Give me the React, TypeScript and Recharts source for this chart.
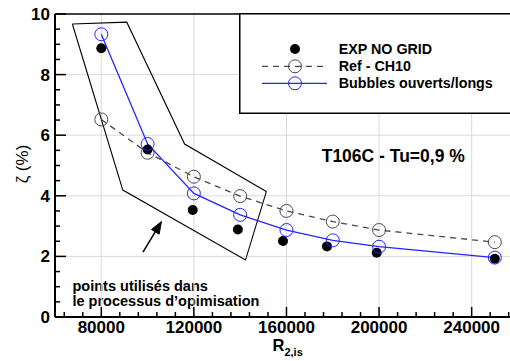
import React from 'react';
import { ComposedChart, Line, XAxis, YAxis, ReferenceLine, Legend } from 'recharts';

// ---- data ----
const expX = [80000, 100000, 119500, 139000, 158500, 177500, 199000, 250000];
const expY = [8.87, 5.53, 3.53, 2.89, 2.51, 2.33, 2.12, 1.92];

const refX = [80000, 100000, 120000, 140000, 160000, 180000, 200000, 250000];
const refY = [6.52, 5.42, 4.63, 3.99, 3.5, 3.15, 2.87, 2.47];

const bubX = [80000, 100000, 120000, 140000, 160000, 180000, 200000, 250000];
const bubY = [9.33, 5.71, 4.08, 3.37, 2.87, 2.53, 2.32, 1.96];

const polyX = [67500, 91000, 116000, 151300, 142300, 89300, 67500];
const polyY = [9.67, 9.73, 5.71, 4.14, 1.88, 4.19, 9.67];

const arrowX = [98000, 106000];
const arrowY = [2.14, 3.15];

const xTicks = [64000, 72000, 80000, 88000, 96000, 104000, 112000, 120000, 128000, 136000, 144000, 152000, 160000, 168000, 176000, 184000, 192000, 200000, 208000, 216000, 224000, 232000, 240000, 248000, 256000];
const xMajor = [80000, 120000, 160000, 200000, 240000];
const yTicks = [0, 0.5, 1, 1.5, 2, 2.5, 3, 3.5, 4, 4.5, 5, 5.5, 6, 6.5, 7, 7.5, 8, 8.5, 9, 9.5, 10];
const yMajor = [0, 2, 4, 6, 8, 10];
const yGrid = [2, 4, 6, 8];

const legendLabels = ['EXP NO GRID', 'Ref - CH10', 'Bubbles ouverts/longs'];
const noteLines = ['points utilisés dans', 'le processus d’opimisation'];
const caseLabel = 'T106C - Tu=0,9 %';

const zip = (xs: number[], ys: number[]) => xs.map((x, i) => ({ x, y: ys[i] }));
const expData = zip(expX, expY);
const refData = zip(refX, refY);
const bubData = zip(bubX, bubY);
const polyData = zip(polyX, polyY);

const FONT = '"Liberation Sans", Arial, Helvetica, sans-serif';
const BLUE = '#2424ff';
const GREY = '#4a4a4a';

const XTick = (props: any) => {
  const { x, y, payload } = props;
  const major = xMajor.includes(payload.value);
  return (
    <g>
      <line x1={x} x2={x} y1={y} y2={y - (major ? 10 : 5)} stroke="#000" strokeWidth={1.5} />
      {major && (
        <text x={x} y={y + 15.5} textAnchor="middle" fontFamily={FONT} fontWeight="bold" fontSize={17} fill="#000">
          {payload.value}
        </text>
      )}
    </g>
  );
};

const YTick = (props: any) => {
  const { x, y, payload } = props;
  const major = yMajor.includes(payload.value);
  return (
    <g>
      <line x1={x} x2={x + (major ? 11 : 5)} y1={y} y2={y} stroke="#000" strokeWidth={1.5} />
      {major && (
        <text x={x - 5} y={y + 6} textAnchor="end" fontFamily={FONT} fontWeight="bold" fontSize={17} fill="#000">
          {payload.value}
        </text>
      )}
    </g>
  );
};

const ArrowShape = (p: any) => {
  const { x1, y1, x2, y2 } = p;
  const dx = x2 - x1;
  const dy = y2 - y1;
  const len = Math.sqrt(dx * dx + dy * dy) || 1;
  const ux = dx / len;
  const uy = dy / len;
  const hl = 12;
  const hw = 4.5;
  const bx = x2 - ux * hl;
  const by = y2 - uy * hl;
  const pts = `${x2},${y2} ${bx - uy * hw},${by + ux * hw} ${bx + uy * hw},${by - ux * hw}`;
  return (
    <g>
      <line x1={x1} y1={y1} x2={bx} y2={by} stroke="#000" strokeWidth={1.5} />
      <polygon points={pts} fill="#000" stroke="#000" />
    </g>
  );
};

const LegendBox = () => (
  <svg width={280} height={102} style={{ display: 'block' }}>
    <rect x={0.75} y={0.75} width={300} height={99.5} fill="#fff" stroke="#000" strokeWidth={1.5} />
    <circle cx={56} cy={36} r={5} fill="#000" />
    <line x1={23} x2={88} y1={53.3} y2={53.3} stroke={GREY} strokeWidth={1.3} strokeDasharray="6 5" />
    <circle cx={56} cy={53.3} r={6.5} fill="none" stroke={GREY} strokeWidth={1} />
    <line x1={23} x2={88} y1={70.3} y2={70.3} stroke={BLUE} strokeWidth={1.3} />
    <circle cx={56} cy={70.3} r={6.5} fill="none" stroke={BLUE} strokeWidth={1} />
    {legendLabels.map((t, i) => (
      <text key={t} x={99.7} y={40.5 + i * 17.2} fontFamily={FONT} fontWeight="bold" fontSize={14.3} fill="#000">
        {t}
      </text>
    ))}
  </svg>
);

export default function App() {
  return (
    <div style={{ position: 'absolute', left: 0, top: 0, width: 510, height: 361, overflow: 'hidden', background: '#fff' }}>
      <ComposedChart width={510} height={361} margin={{ top: 14, right: 0, left: 0, bottom: 0 }}>
        <XAxis
          dataKey="x"
          type="number"
          domain={[60000, 256560]}
          ticks={xTicks}
          allowDataOverflow
          height={44}
          tickSize={0}
          tickMargin={0}
          tickLine={false}
          tick={<XTick />}
          interval={0}
          axisLine={{ stroke: '#000', strokeWidth: 2 }}
        />
        <YAxis
          type="number"
          domain={[0, 10]}
          ticks={yTicks}
          allowDataOverflow
          width={55}
          tickSize={0}
          tickMargin={0}
          tickLine={false}
          tick={<YTick />}
          interval={0}
          axisLine={{ stroke: '#000', strokeWidth: 2 }}
        />
        {xMajor.map((v) => (
          <ReferenceLine key={'gx' + v} x={v} stroke="#dadada" strokeWidth={1} />
        ))}
        {yGrid.map((v) => (
          <ReferenceLine key={'gy' + v} y={v} stroke="#dadada" strokeWidth={1} />
        ))}
        <ReferenceLine y={10} stroke="#000" strokeWidth={1.5} />
        <Line
          data={polyData}
          dataKey="y"
          type="linear"
          stroke="#000"
          strokeWidth={1.1}
          dot={false}
          activeDot={false}
          isAnimationActive={false}
        />
        <ReferenceLine
          segment={[{ x: arrowX[0], y: arrowY[0] }, { x: arrowX[1], y: arrowY[1] }]}
          shape={ArrowShape}
        />
        <Line
          data={refData}
          dataKey="y"
          type="linear"
          stroke={GREY}
          strokeWidth={1.3}
          strokeDasharray="6 5"
          dot={(p: any) => <circle key={'r' + p.index} cx={p.cx} cy={p.cy} r={6.5} fill="none" stroke={GREY} strokeWidth={1} />}
          activeDot={false}
          isAnimationActive={false}
        />
        <Line
          data={expData}
          dataKey="y"
          stroke="none"
          dot={(p: any) => <circle key={'e' + p.index} cx={p.cx} cy={p.cy} r={5} fill="#000" />}
          activeDot={false}
          isAnimationActive={false}
        />
        <Line
          data={bubData}
          dataKey="y"
          type="linear"
          stroke={BLUE}
          strokeWidth={1.3}
          dot={(p: any) => <circle key={'b' + p.index} cx={p.cx} cy={p.cy} r={6.5} fill="none" stroke={BLUE} strokeWidth={1} />}
          activeDot={false}
          isAnimationActive={false}
        />
        <text x={321.7} y={161.5} fontFamily={FONT} fontWeight="bold" fontSize={17.5} fill="#000">
          {caseLabel}
        </text>
        {noteLines.map((t, i) => (
          <text key={t} x={72.5} y={291 + i * 14.5} fontFamily={FONT} fontWeight="bold" fontSize={14.5} fill="#000">
            {t}
          </text>
        ))}
        <text x={22} y={164} transform="rotate(-90 22 164)" textAnchor="middle" dominantBaseline="central" fontFamily={FONT} fontSize={17} fill="#000">
          ζ (%)
        </text>
        <text x={272.5} y={350.5} fontFamily={FONT} fontWeight="bold" fontSize={16.5} fill="#000">
          R
          <tspan fontSize={11} dy={5.5}>2,is</tspan>
        </text>
        <Legend
          layout="vertical"
          align="center"
          verticalAlign="middle"
          wrapperStyle={{ position: 'absolute', left: 239, top: 13, width: 280, height: 102, margin: 0, padding: 0 }}
          content={() => <LegendBox />}
        />
      </ComposedChart>
    </div>
  );
}
